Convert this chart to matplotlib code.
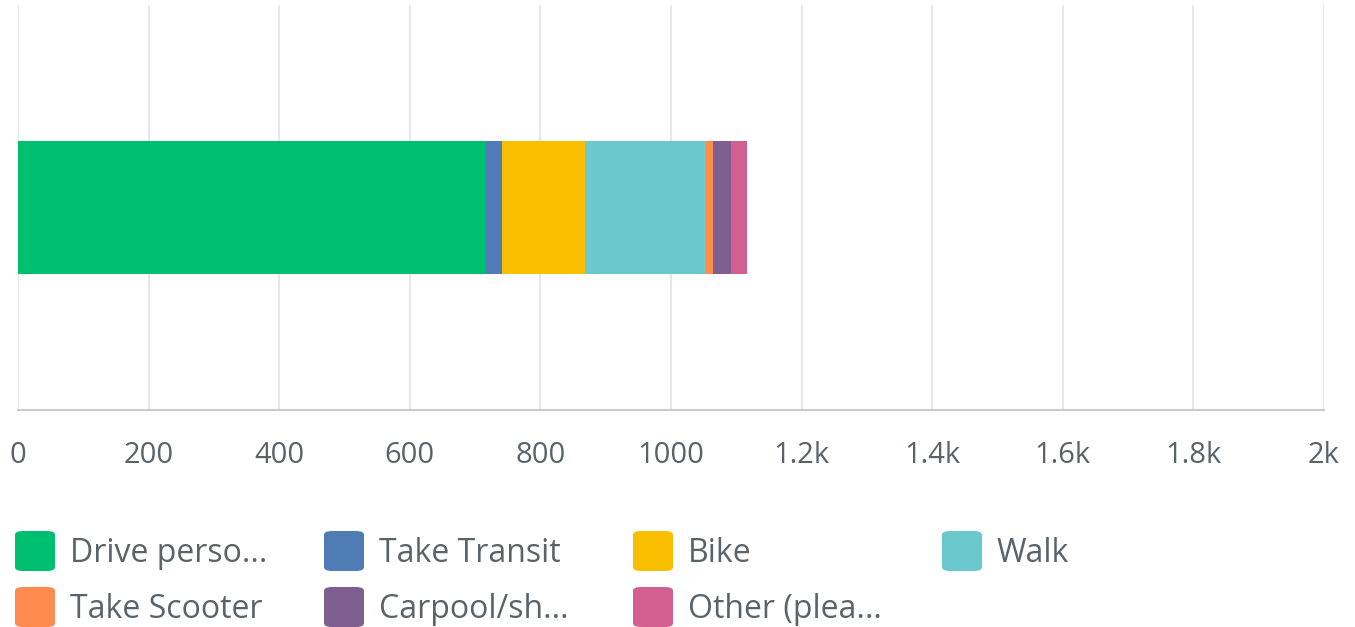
import matplotlib.pyplot as plt
from matplotlib.patches import FancyBboxPatch

plt.rcParams['font.family'] = ['Open Sans', 'DejaVu Sans']

labels = ['Drive perso...', 'Take Transit', 'Bike', 'Walk',
          'Take Scooter', 'Carpool/sh...', 'Other (plea...']
values = [717, 24, 127, 184, 12, 28, 25]
colors = ['#00bf6f', '#507cb6', '#f9be00', '#6bc8cd',
          '#ff8b4f', '#7f5f8f', '#d25f90']
xticks = [0, 200, 400, 600, 800, 1000, 1200, 1400, 1600, 1800, 2000]
xticklabels = ['0', '200', '400', '600', '800', '1000', '1.2k', '1.4k', '1.6k', '1.8k', '2k']

fig = plt.figure(figsize=(13.55, 6.27), dpi=100)
ax = fig.add_axes([18 / 1355, 1 - 410 / 627, 1306 / 1355, 405 / 627])

left = 0
for v, c in zip(values, colors):
    ax.barh(0, v, left=left, height=133 / 405, color=c, zorder=3)
    left += v

ax.set_xlim(0, 2000)
ax.set_ylim(-0.5, 0.5)
ax.set_yticks([])
ax.set_xticks(xticks)
ax.set_xticklabels(xticklabels, fontsize=21, color='#5a6369')
ax.tick_params(axis='x', length=0, pad=22)
ax.grid(axis='x', color='#e3e3e3', linewidth=1.2, zorder=0)
for s in ['top', 'right', 'left']:
    ax.spines[s].set_visible(False)
ax.spines['bottom'].set_color('#c9cbcc')
ax.spines['bottom'].set_linewidth(1.5)

# legend, 4 columns
for i, (lab, c) in enumerate(zip(labels, colors)):
    row, col = divmod(i, 4)
    x0 = 15 + col * 309
    yc = 551 + row * 56
    box = FancyBboxPatch((x0 / 1355, 1 - (yc + 20) / 627), 40 / 1355, 40 / 627,
                         boxstyle='round,pad=0,rounding_size=0.006',
                         transform=fig.transFigure, facecolor=c, edgecolor='none')
    fig.add_artist(box)
    fig.text((x0 + 55) / 1355, 1 - (yc + 3) / 627, lab, fontsize=23, color='#5a6369',
             va='center', ha='left')

fig.savefig('out.png', dpi=100)
